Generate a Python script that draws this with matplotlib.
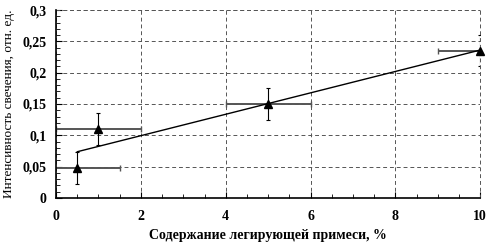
import numpy as np
import matplotlib
matplotlib.use("Agg")
import matplotlib.pyplot as plt
from matplotlib.ticker import MultipleLocator, FuncFormatter

plt.rcParams['font.family'] = ['Liberation Serif', 'DejaVu Serif']

# Data
conc = [0.5, 1, 5, 10]            # % dopant
intensity = [0.048, 0.11, 0.15, 0.235]
x_err = [1, 1, 1, 1]
y_err = [0.025, 0.025, 0.025, 0.025]

fig = plt.figure(figsize=(4.92, 2.45), dpi=100)
ax = fig.add_axes([0.114, 0.192, 0.862, 0.767])

# horizontal error bars (grey)
ax.errorbar(conc, intensity, xerr=x_err, fmt='none', ecolor='#555555',
            elinewidth=1.4, capsize=2, capthick=1.0)
# vertical error bars
ax.errorbar(conc, intensity, yerr=y_err, fmt='none', ecolor='black',
            elinewidth=0.8, capsize=1.5, capthick=0.8)
ax.plot(conc, intensity, '^', color='black', markersize=6, clip_on=False, zorder=5)

# linear trend line
k, b = np.polyfit(conc, intensity, 1)
xs = np.array([min(conc), max(conc)])
ax.plot(xs, k * xs + b, color='black', lw=1.0)

ax.set_xlim(0, 10)
ax.set_ylim(0, 0.3)
ax.xaxis.set_major_locator(MultipleLocator(2))
ax.xaxis.set_minor_locator(MultipleLocator(0.5))
ax.yaxis.set_major_locator(MultipleLocator(0.05))
ax.yaxis.set_minor_locator(MultipleLocator(0.01))
ax.yaxis.set_major_formatter(FuncFormatter(lambda v, p: f"{v:g}".replace('.', ',')))

ax.tick_params(which='both', direction='in', top=False, right=False)
ax.tick_params(which='major', length=4, labelsize=10)
ax.tick_params(axis='x', which='major', pad=9)
ax.tick_params(axis='y', which='major', pad=7)
ax.tick_params(which='minor', length=3)
for lab in ax.get_xticklabels() + ax.get_yticklabels():
    lab.set_fontweight('bold')

ax.spines['top'].set_visible(False)
ax.spines['right'].set_visible(False)
ax.spines['left'].set_linewidth(1.2)
ax.spines['bottom'].set_linewidth(1.2)
ax.grid(True, which='major', linestyle=(0, (4, 3)), color='#555555', lw=0.7)
ax.set_axisbelow(True)
ax.axhline(0.3, linestyle=(0, (4, 3)), color='#555555', lw=0.7, clip_on=False)
ax.axvline(10, linestyle=(0, (4, 3)), color='#555555', lw=0.7, clip_on=False)

ax.set_xlabel("Содержание легирующей примеси, %", fontsize=10, fontweight='bold', labelpad=4)
ax.set_ylabel("Интенсивность свечения, отн. ед.", fontsize=9.5, labelpad=5)

fig.savefig("out.png", dpi=100)
